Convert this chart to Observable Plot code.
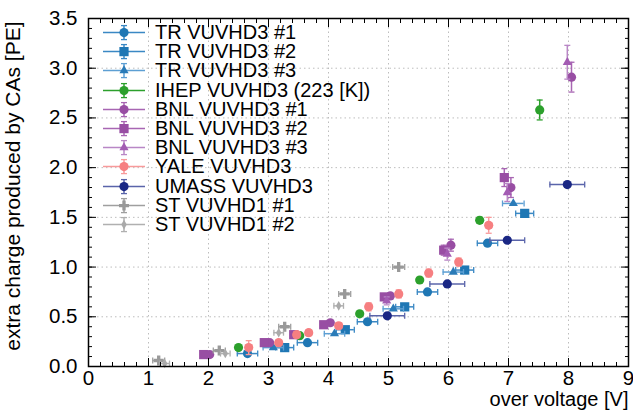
<!DOCTYPE html>
<html><head><meta charset="utf-8">
<script src="https://cdn.jsdelivr.net/npm/d3@7"></script>
<script src="https://cdn.jsdelivr.net/npm/@observablehq/plot@0.6"></script>
<style>
body{margin:0;background:#fff;font-family:"Liberation Sans",Arial,sans-serif}
#wrap{position:relative;width:633px;height:411px}
#legend{position:absolute;left:100px;top:23px;font-size:20px;line-height:19.2px;color:#000}
#legend .row{display:flex;align-items:center;height:19.2px;white-space:nowrap}
#legend svg{display:block;margin-right:7px}
</style></head>
<body><div id="wrap"><div id="legend"></div></div>
<script>
// ---- data ----
const seriesNames = ["TR VUVHD3 #1","TR VUVHD3 #2","TR VUVHD3 #3","IHEP VUVHD3 (223 [K])",
  "BNL VUVHD3 #1","BNL VUVHD3 #2","BNL VUVHD3 #3","YALE VUVHD3","UMASS VUVHD3","ST VUVHD1 #1","ST VUVHD1 #2"];

const tr1X = [2.65,3.65,4.65,5.65,6.65];
const tr1Y = [0.13,0.24,0.45,0.75,1.24];
const tr1XErr = [0.17,0.17,0.17,0.17,0.17];

const tr2X = [3.27,4.28,5.27,6.27,7.27];
const tr2Y = [0.19,0.37,0.60,0.97,1.54];
const tr2XErr = [0.15,0.15,0.15,0.15,0.15];

const tr3X = [3.08,4.10,5.08,6.08,7.08];
const tr3Y = [0.19,0.33,0.58,0.95,1.64];
const tr3XErr = [0.17,0.17,0.17,0.17,0.18];

const ihepX = [2.50,3.52,4.52,5.52,6.52,7.52];
const ihepY = [0.19,0.31,0.53,0.87,1.47,2.58];
const ihepYErr = [0.01,0.01,0.02,0.02,0.03,0.10];

const bnl1X = [2.02,3.02,4.03,5.03,6.04,7.04,8.05];
const bnl1Y = [0.12,0.24,0.44,0.71,1.22,1.80,2.91];
const bnl1YErr = [0.01,0.01,0.02,0.03,0.06,0.10,0.15];

const bnl2X = [1.92,2.93,3.42,3.92,4.93,5.92,6.93];
const bnl2Y = [0.12,0.24,0.32,0.42,0.70,1.17,1.90];
const bnl2YErr = [0.01,0.01,0.01,0.02,0.03,0.05,0.09];

const bnl3X = [4.97,5.98,6.98,7.98];
const bnl3Y = [0.66,1.13,1.75,3.06];
const bnl3YErr = [0.04,0.06,0.09,0.17];

const yaleX = [2.67,3.17,3.47,3.67,4.17,4.67,5.17,5.67,6.17,6.67];
const yaleY = [0.19,0.24,0.32,0.34,0.41,0.60,0.73,0.94,1.05,1.42];
const yaleXErr = [0.05,0.05,0.05,0.05,0.05,0.05,0.05,0.05,0.05,0.05];
const yaleYErr = [0.07,0.03,0.03,0.03,0.03,0.04,0.04,0.04,0.04,0.08];

const umassX = [4.98,5.98,6.98,7.98];
const umassY = [0.51,0.83,1.27,1.83];
const umassXErr = [0.29,0.29,0.29,0.29];

const st1X = [1.17,2.18,3.27,4.27,5.17];
const st1Y = [0.06,0.16,0.40,0.73,1.00];
const st1XErr = [0.10,0.10,0.10,0.10,0.10];

const st2X = [1.27,2.28,3.17,4.17];
const st2Y = [0.03,0.13,0.34,0.61];
const st2XErr = [0.08,0.08,0.08,0.08];

const xMajorTicks = [0,1,2,3,4,5,6,7,8,9];
const yMajorTicks = [0,0.5,1.0,1.5,2.0,2.5,3.0,3.5];
const xLabel = "over voltage [V]";
const yLabel = "extra charge produced by CAs [PE]";

// ---- series table ----
const series = [
  {name: seriesNames[0], x: tr1X, y: tr1Y, xerr: tr1XErr, symbol: "circle", color: "#1f77b4", ec: "#3a88c4", r: 4.6},
  {name: seriesNames[1], x: tr2X, y: tr2Y, xerr: tr2XErr, symbol: "square", color: "#1f77b4", ec: "#3a88c4", r: 5.2},
  {name: seriesNames[2], x: tr3X, y: tr3Y, xerr: tr3XErr, symbol: "triangle", color: "#2a7bb8", ec: "#5d9fd3", r: 3.4},
  {name: seriesNames[3], x: ihepX, y: ihepY, yerr: ihepYErr, symbol: "circle", color: "#2ca02c", ec: "#2ca02c", r: 4.6},
  {name: seriesNames[4], x: bnl1X, y: bnl1Y, yerr: bnl1YErr, symbol: "circle", color: "#984ea3", ec: "#a866b3", r: 4.6},
  {name: seriesNames[5], x: bnl2X, y: bnl2Y, yerr: bnl2YErr, symbol: "square", color: "#984ea3", ec: "#a866b3", r: 5.2},
  {name: seriesNames[6], x: bnl3X, y: bnl3Y, yerr: bnl3YErr, symbol: "triangle", color: "#a35cb3", ec: "#b987c6", r: 3.4},
  {name: seriesNames[7], x: yaleX, y: yaleY, xerr: yaleXErr, yerr: yaleYErr, symbol: "circle", color: "#f67f81", ec: "#f89a9b", r: 4.6},
  {name: seriesNames[8], x: umassX, y: umassY, xerr: umassXErr, symbol: "circle", color: "#1a2784", ec: "#5a64aa", r: 4.6},
  {name: seriesNames[9], x: st1X, y: st1Y, xerr: st1XErr, symbol: "cross", color: "#999999", ec: "#9f9f9f", r: 4.2},
  {name: seriesNames[10], x: st2X, y: st2Y, xerr: st2XErr, symbol: "diamond", color: "#aaaaaa", ec: "#b0b0b0", r: 2.9}
];

const vbar = {draw(ctx, size){ const r = Math.sqrt(size/Math.PI); ctx.moveTo(0,-r); ctx.lineTo(0,r); }};
const hbar = {draw(ctx, size){ const r = Math.sqrt(size/Math.PI); ctx.moveTo(-r,0); ctx.lineTo(r,0); }};

const dataMarks = [];
for (const s of series) {
  const rows = s.x.map((x, i) => ({x, y: s.y[i], xe: s.xerr ? s.xerr[i] : 0, ye: s.yerr ? s.yerr[i] : 0}));
  if (s.xerr) {
    dataMarks.push(Plot.ruleY(rows, {y: "y", x1: d => d.x - d.xe, x2: d => d.x + d.xe, stroke: s.ec, strokeWidth: 1.5}));
    dataMarks.push(Plot.dot(rows, {x: d => d.x - d.xe, y: "y", symbol: vbar, r: 3, stroke: s.ec, strokeWidth: 1.3, fill: "none"}));
    dataMarks.push(Plot.dot(rows, {x: d => d.x + d.xe, y: "y", symbol: vbar, r: 3, stroke: s.ec, strokeWidth: 1.3, fill: "none"}));
  }
  if (s.yerr) {
    dataMarks.push(Plot.ruleX(rows, {x: "x", y1: d => d.y - d.ye, y2: d => d.y + d.ye, stroke: s.ec, strokeWidth: 1.5}));
    dataMarks.push(Plot.dot(rows, {x: "x", y: d => d.y - d.ye, symbol: hbar, r: 3, stroke: s.ec, strokeWidth: 1.3, fill: "none"}));
    dataMarks.push(Plot.dot(rows, {x: "x", y: d => d.y + d.ye, symbol: hbar, r: 3, stroke: s.ec, strokeWidth: 1.3, fill: "none"}));
  }
  dataMarks.push(Plot.dot(rows, {x: "x", y: "y", symbol: s.symbol, r: s.r, fill: s.color, stroke: "none"}));
}

const xMinor = d3.range(0, 9.0001, 0.2).map(v => +v.toFixed(1));
const yMinor = d3.range(0, 3.5001, 0.1).map(v => +v.toFixed(1));
const blank = () => "";

const chart = Plot.plot({
  width: 633, height: 411,
  marginLeft: 88, marginRight: 5, marginTop: 18, marginBottom: 45,
  x: {domain: [0, 9], label: null},
  y: {domain: [0, 3.5], label: null},
  style: {fontFamily: "'Liberation Sans', Arial, sans-serif", fontSize: "20px", color: "#000", background: "#fff", overflow: "visible"},
  marks: [
    Plot.gridX(xMajorTicks.slice(1, -1), {stroke: "#bdbdbd", strokeOpacity: 1, strokeDasharray: "1.5,3"}),
    Plot.gridY(yMajorTicks.slice(1, -1), {stroke: "#bdbdbd", strokeOpacity: 1, strokeDasharray: "1.5,3"}),
    ...dataMarks,
    // inward ticks on all four sides
    Plot.axisX(xMinor, {anchor: "bottom", tickSize: 4, dy: -4, tickFormat: blank, label: null}),
    Plot.axisX(xMajorTicks, {anchor: "bottom", tickSize: 8, dy: -8, tickFormat: blank, label: null}),
    Plot.axisX(xMinor, {anchor: "top", tickSize: 4, dy: 4, tickFormat: blank, label: null}),
    Plot.axisX(xMajorTicks, {anchor: "top", tickSize: 8, dy: 8, tickFormat: blank, label: null}),
    Plot.axisY(yMinor, {anchor: "left", tickSize: 4, dx: 4, tickFormat: blank, label: null}),
    Plot.axisY(yMajorTicks, {anchor: "left", tickSize: 8, dx: 8, tickFormat: blank, label: null}),
    Plot.axisY(yMinor, {anchor: "right", tickSize: 4, dx: -4, tickFormat: blank, label: null}),
    Plot.axisY(yMajorTicks, {anchor: "right", tickSize: 8, dx: -8, tickFormat: blank, label: null}),
    // tick labels
    Plot.axisX(xMajorTicks, {anchor: "bottom", tickSize: 0, tickPadding: 4, tickFormat: d => String(d), label: null, fontSize: 20.5}),
    Plot.axisY(yMajorTicks, {anchor: "left", tickSize: 0, tickPadding: 11, tickFormat: d3.format(".1f"), label: null, fontSize: 20.5}),
    Plot.frame({stroke: "#000", strokeWidth: 1.5}),
    Plot.text([xLabel], {frameAnchor: "bottom-right", textAnchor: "end", lineAnchor: "bottom", dy: 39.5, fontSize: 20}),
    Plot.text([yLabel], {frameAnchor: "top-left", rotate: -90, textAnchor: "end", lineAnchor: "top", dx: -83, dy: 3, fontSize: 21})
  ]
});
document.getElementById("wrap").prepend(chart);

// ---- legend (inside plot area, top-left) ----
const legend = d3.select("#legend");
const symMap = {circle: d3.symbolCircle, square: d3.symbolSquare, triangle: d3.symbolTriangle, cross: d3.symbolCross, diamond: d3.symbolDiamond};
for (const s of series) {
  const row = legend.append("div").attr("class", "row");
  const svg = row.append("svg").attr("width", 48).attr("height", 19.2);
  const cx = 24, cy = 9.6;
  svg.append("line").attr("x1", 3).attr("x2", 45).attr("y1", cy).attr("y2", cy).attr("stroke", s.ec).attr("stroke-width", 1.5);
  svg.append("line").attr("x1", cx).attr("x2", cx).attr("y1", cy - 7).attr("y2", cy + 7).attr("stroke", s.ec).attr("stroke-width", 1.5);
  for (const yy of [cy - 7, cy + 7]) svg.append("line").attr("x1", cx - 3).attr("x2", cx + 3).attr("y1", yy).attr("y2", yy).attr("stroke", s.ec).attr("stroke-width", 1.3);
  svg.append("path").attr("transform", `translate(${cx},${cy})`)
    .attr("d", d3.symbol(symMap[s.symbol], Math.PI * s.r * s.r)()).attr("fill", s.color);
  row.append("span").text(s.name);
}
</script>
</body></html>
